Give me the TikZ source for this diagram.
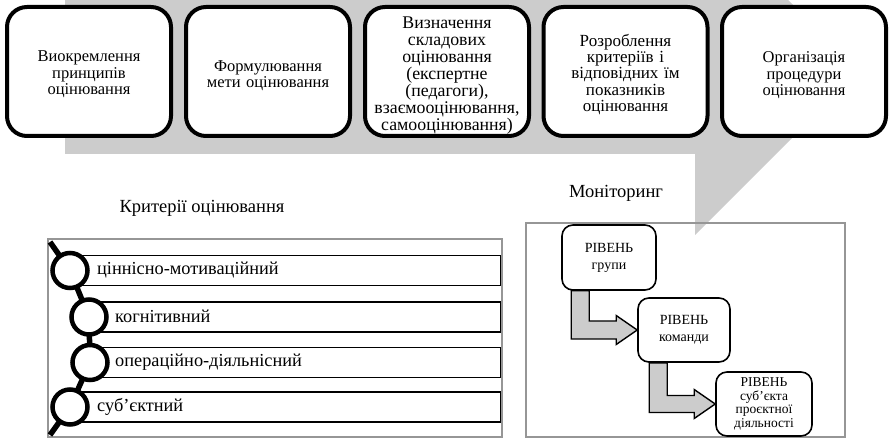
\documentclass[tikz,border=0pt]{standalone}
\usepackage{fontspec}
\setmainfont{Liberation Serif}
\usetikzlibrary{calc}
\definecolor{bandgray}{RGB}{204,204,204}
\definecolor{framegray}{RGB}{150,150,150}
\begin{document}
\begin{tikzpicture}[x=1pt,y=-1pt,
  stagebox/.style={draw=black, line width=4pt, rounded corners=20pt, fill=white,
    minimum width=164pt, minimum height=129pt, inner sep=0pt},
  stagetext/.style={text width=160pt, align=center, inner sep=0pt,
    font=\fontsize{16.5}{16.5}\selectfont},
  titletext/.style={inner sep=0pt, font=\fontsize{18.5}{20}\selectfont},
  framebox/.style={draw=framegray, line width=1.3pt},
  critbar/.style={draw=black, line width=1.4pt, fill=white, anchor=west,
    minimum height=30pt, inner sep=0pt},
  crittext/.style={anchor=west, inner sep=0pt, font=\fontsize{18.3}{20}\selectfont},
  ring/.style={circle, draw=black, line width=4.5pt, fill=white, minimum size=35pt, inner sep=0pt},
  chain/.style={line width=5.5pt, black},
  lvlbox/.style={draw=black, line width=1.6pt, rounded corners=11pt, fill=white,
    align=center, inner sep=0pt},
  garrow/.style={draw=black, line width=1.4pt, fill=bandgray, line join=miter}
]
\useasboundingbox (0,0) rectangle (889,438);

% big gray bent band
\fill[bandgray] (65,-10) -- (778,-10) -- (859,71) -- (695,235) -- (695,154) -- (65,154) -- cycle;

% top stages
\node[stagebox] (s1) at (89,71.5) {};
\node[stagebox] (s2) at (268,71.5) {};
\node[stagebox] (s3) at (447,71.5) {};
\node[stagebox] (s4) at (625.5,71.5) {};
\node[stagebox] (s5) at (804,71.5) {};
\node[stagetext] (s1t) at ([yshift=-3pt]s1.center) {Виокремлення\\принципів\\оцінювання};
\node[stagetext] (s2t) at ([yshift=-4pt]s2.center) {Формулювання\\мети оцінювання};
\node[stagetext, font=\fontsize{17.8}{17}\selectfont] (s3t) at ([yshift=-4pt]s3.center)
  {Визначення\\складових\\оцінювання\\(експертне\\(педагоги),\\взаємооцінювання,\\самооцінювання)};
\node[stagetext, font=\fontsize{17}{16.3}\selectfont] (s4t) at ([yshift=-3pt]s4.center)
  {Розроблення\\критеріїв і\\відповідних їм\\показників\\оцінювання};
\node[stagetext] (s5t) at ([yshift=-4pt]s5.center) {Організація\\процедури\\оцінювання};

% titles
\node[titletext] (crit) at (202,208) {Критерії оцінювання};
\node[titletext] (mon) at (616,193) {Моніторинг};

% frames
\draw[framebox] (48,239) rectangle (502,437);
\draw[framebox] (526,223) rectangle (845,437);

% criteria bars
\coordinate (c1) at (70,270.5);
\coordinate (c2) at (89,317);
\coordinate (c3) at (90,362.5);
\coordinate (c4) at (70,407);
\coordinate (ctop) at (50,242);
\coordinate (cbot) at (50,435);
\node[critbar, minimum width=430pt] (b1) at (c1) {};
\node[critbar, minimum width=411pt] (b2) at (c2) {};
\node[critbar, minimum width=410pt] (b3) at (c3) {};
\node[critbar, minimum width=430pt] (b4) at (c4) {};
\draw[chain] (ctop) -- (c1) -- (c2) -- (c3) -- (c4) -- (cbot);
\node[ring] (r1) at (c1) {};
\node[ring] (r2) at (c2) {};
\node[ring] (r3) at (c3) {};
\node[ring] (r4) at (c4) {};
\node[crittext] (t1) at (97,270) {ціннісно-мотиваційний};
\node[crittext] (t2) at (115,316) {когнітивний};
\node[crittext] (t3) at (115,362.5) {операційно-діяльнісний};
\node[crittext] (t4) at (97,407) {суб’єктний};

% monitoring levels
\node[lvlbox, minimum width=94pt, minimum height=65pt, font=\fontsize{14}{17}\selectfont] (A) at (609,257.5)
  {РІВЕНЬ\\групи};
\node[lvlbox, minimum width=92pt, minimum height=64pt, font=\fontsize{14}{17}\selectfont] (B) at (684,330)
  {РІВЕНЬ\\команди};
\node[lvlbox, minimum width=96pt, minimum height=64pt, font=\fontsize{13.5}{13.5}\selectfont] (C) at (764,404)
  {РІВЕНЬ\\суб’єкта\\проєктної\\діяльності};

% bent arrows
\draw[garrow] let \p1=(A.south west), \p2=(B.west) in
  (\x1+10pt,\y1) -- (\x1+10pt,\y2-9pt) -- (\x2-21pt,\y2-9pt) -- (\x2-21pt,\y2-14.5pt)
  -- (\x2,\y2) -- (\x2-21pt,\y2+14.5pt) -- (\x2-21pt,\y2+9pt) -- (\x1+28pt,\y2+9pt)
  -- (\x1+28pt,\y1) -- cycle;
\draw[garrow] let \p1=(B.south west), \p2=(C.west) in
  (\x1+12pt,\y1) -- (\x1+12pt,\y2-8.5pt) -- (\x2-21pt,\y2-8.5pt) -- (\x2-21pt,\y2-14.5pt)
  -- (\x2,\y2) -- (\x2-21pt,\y2+14.5pt) -- (\x2-21pt,\y2+8.5pt) -- (\x1+30pt,\y2+8.5pt)
  -- (\x1+30pt,\y1) -- cycle;
\end{tikzpicture}
\end{document}
